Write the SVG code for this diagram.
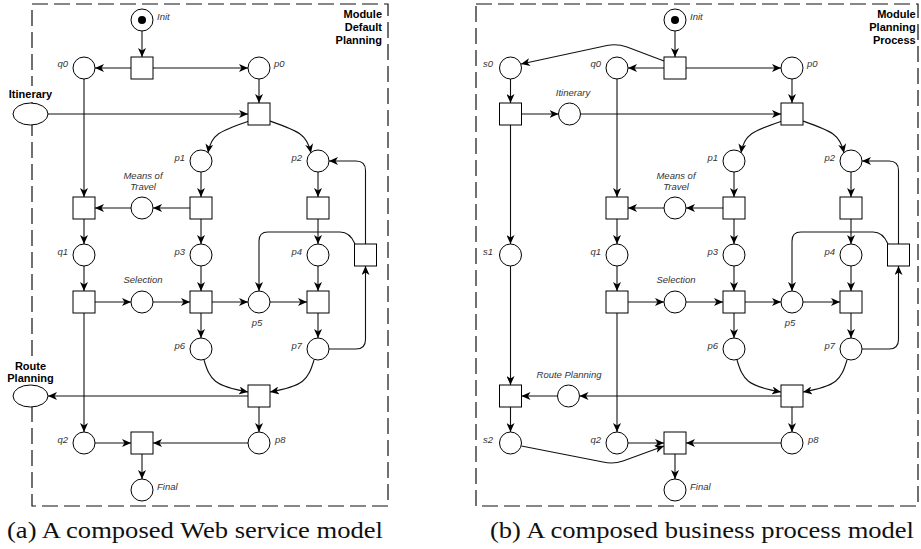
<svg xmlns="http://www.w3.org/2000/svg" width="921" height="549" viewBox="0 0 921 549">
  <style>
    .pl { fill: #fff; stroke: #000; stroke-width: 1; }
    .tr { fill: #fff; stroke: #000; stroke-width: 1; }
    .tok { fill: #000; stroke: none; }
    .arc { fill: none; stroke: #111; stroke-width: 1.1; marker-end: url(#ah); }
    .frame { fill: none; stroke: #111; stroke-width: 1.2; stroke-dasharray: 16 6; }
    .lbl { font-family: "Liberation Sans", Arial, sans-serif; font-style: italic; font-size: 9.5px; fill: #333; }
    .bold { font-family: "Liberation Sans", Arial, sans-serif; font-weight: bold; font-size: 11px; fill: #000; }
    .cap { font-family: "Liberation Serif", "Times New Roman", serif; font-size: 22.5px; fill: #111; }
    .bg { fill: #fff; stroke: none; }
  </style>
  <defs>
    <marker id="ah" markerUnits="userSpaceOnUse" markerWidth="9" markerHeight="8" viewBox="0 0 9 8" refX="9" refY="4" orient="auto">
      <path d="M0,0 L9,4 L0,8 L2.5,4 z" fill="#000"/>
    </marker>
    <!-- shared node shapes, centred on the origin -->
    <circle id="place" class="pl" r="11"/>
    <rect id="trans" class="tr" x="-11" y="-11" width="22" height="22"/>
  </defs>
  <rect width="921" height="549" fill="#fff"/>

  <!-- ===================== (a) Module Default Planning ===================== -->
  <g id="panel-a">
    <rect class="frame" x="32" y="4" width="356" height="502"/>

    <g id="a-connectors">
      <path class="arc" d="M142,31 L142,57"/>
      <path class="arc" d="M131,68 L95,68"/>
      <path class="arc" d="M153,68 L248,68"/>
      <path class="arc" d="M259,79 L259,103"/>
      <path class="arc" d="M48,114 L248,114"/>
      <path class="arc" d="M249,121 C220,131 211,134 208,153"/>
      <path class="arc" d="M270,121 C298,131 307,134 311,153"/>
      <path class="arc" d="M201,172 L201,197"/>
      <path class="arc" d="M190,208 L153,208"/>
      <path class="arc" d="M131,208 L95,208"/>
      <path class="arc" d="M84,79 L84,197"/>
      <path class="arc" d="M84,219 L84,244"/>
      <path class="arc" d="M201,219 L201,244"/>
      <path class="arc" d="M318,172 L318,197"/>
      <path class="arc" d="M318,219 L318,244"/>
      <path class="arc" d="M84,266 L84,291"/>
      <path class="arc" d="M201,266 L201,291"/>
      <path class="arc" d="M318,266 L318,291"/>
      <path class="arc" d="M95,302 L131,302"/>
      <path class="arc" d="M153,302 L190,302"/>
      <path class="arc" d="M212,302 L248,302"/>
      <path class="arc" d="M270,302 L307,302"/>
      <path class="arc" d="M201,313 L201,338"/>
      <path class="arc" d="M318,313 L318,338"/>
      <path class="arc" d="M329,349 L356,349 Q365.5,349 365.5,339.5 L365.5,266"/>
      <path class="arc" d="M365.5,244 L365.5,170.5 Q365.5,161 356,161 L329,161"/>
      <path class="arc" d="M355,244 Q350,232 340,232 L268,232 Q259,232 259,241 L259,291"/>
      <path class="arc" d="M84,313 L84,432"/>
      <path class="arc" d="M204,360 C210,380 214,386 248,392"/>
      <path class="arc" d="M314,360 C308,380 304,386 270,392"/>
      <path class="arc" d="M248,396 L48,396"/>
      <path class="arc" d="M259,407 L259,432"/>
      <path class="arc" d="M95,443 L131,443"/>
      <path class="arc" d="M248,443 L153,443"/>
      <path class="arc" d="M142,454 L142,479"/>
    </g>

    <g id="a-title">
      <text class="bold" text-anchor="end" x="382" y="18">Module</text>
      <text class="bold" text-anchor="end" x="382" y="31">Default</text>
      <text class="bold" text-anchor="end" x="382" y="44">Planning</text>
    </g>

    <g id="a-init"><use href="#place" x="142" y="20"/><circle class="tok" cx="142" cy="20" r="4"/><text class="lbl" x="157" y="20">Init</text></g>
    <g id="a-t0"><use href="#trans" x="142" y="68"/></g>
    <g id="a-q0"><use href="#place" x="84" y="68"/><text class="lbl" text-anchor="end" x="68" y="67">q0</text></g>
    <g id="a-p0"><use href="#place" x="259" y="68"/><text class="lbl" x="274" y="67">p0</text></g>
    <g id="a-itinerary">
      <rect class="bg" x="12" y="86" width="42" height="16"/>
      <text class="bold" text-anchor="middle" x="30.5" y="98">Itinerary</text>
      <ellipse class="pl" cx="30.5" cy="114" rx="17.5" ry="11"/>
    </g>
    <g id="a-t1"><use href="#trans" x="259" y="114"/></g>
    <g id="a-p1"><use href="#place" x="201" y="161"/><text class="lbl" text-anchor="end" x="185" y="161">p1</text></g>
    <g id="a-p2"><use href="#place" x="318" y="161"/><text class="lbl" text-anchor="end" x="302" y="161">p2</text></g>
    <g id="a-t2"><use href="#trans" x="84" y="208"/></g>
    <g id="a-means"><use href="#place" x="142" y="208"/>
      <text class="lbl" text-anchor="middle" x="143" y="179">Means of</text>
      <text class="lbl" text-anchor="middle" x="143" y="190">Travel</text></g>
    <g id="a-t3"><use href="#trans" x="201" y="208"/></g>
    <g id="a-t4"><use href="#trans" x="318" y="208"/></g>
    <g id="a-q1"><use href="#place" x="84" y="255"/><text class="lbl" text-anchor="end" x="68" y="255">q1</text></g>
    <g id="a-p3"><use href="#place" x="201" y="255"/><text class="lbl" text-anchor="end" x="185" y="255">p3</text></g>
    <g id="a-p4"><use href="#place" x="318" y="255"/><text class="lbl" text-anchor="end" x="302" y="255">p4</text></g>
    <g id="a-t5"><use href="#trans" x="365.5" y="255"/></g>
    <g id="a-t6"><use href="#trans" x="84" y="302"/></g>
    <g id="a-selection"><use href="#place" x="142" y="302"/><text class="lbl" text-anchor="middle" x="143" y="283">Selection</text></g>
    <g id="a-t7"><use href="#trans" x="201" y="302"/></g>
    <g id="a-p5"><use href="#place" x="259" y="302"/><text class="lbl" text-anchor="middle" x="257" y="326">p5</text></g>
    <g id="a-t8"><use href="#trans" x="318" y="302"/></g>
    <g id="a-p6"><use href="#place" x="201" y="349"/><text class="lbl" text-anchor="end" x="185" y="349">p6</text></g>
    <g id="a-p7"><use href="#place" x="318" y="349"/><text class="lbl" text-anchor="end" x="302" y="349">p7</text></g>
    <g id="a-route">
      <rect class="bg" x="8" y="359" width="46" height="27"/>
      <text class="bold" text-anchor="middle" x="30.5" y="370">Route</text>
      <text class="bold" text-anchor="middle" x="30.5" y="382">Planning</text>
      <ellipse class="pl" cx="30.5" cy="396" rx="17.5" ry="11"/>
    </g>
    <g id="a-t9"><use href="#trans" x="259" y="396"/></g>
    <g id="a-q2"><use href="#place" x="84" y="443"/><text class="lbl" text-anchor="end" x="68" y="443">q2</text></g>
    <g id="a-t10"><use href="#trans" x="142" y="443"/></g>
    <g id="a-p8"><use href="#place" x="259" y="443"/><text class="lbl" x="275" y="443">p8</text></g>
    <g id="a-final"><use href="#place" x="142" y="490"/><text class="lbl" x="157" y="490">Final</text></g>

    <text class="cap" x="7" y="538" textLength="376" lengthAdjust="spacingAndGlyphs">(a) A composed Web service model</text>
  </g>

  <!-- ===================== (b) Module Planning Process ===================== -->
  <g id="panel-b">
    <rect class="frame" x="476" y="4" width="442" height="502"/>
    <g transform="translate(533,0)">
      <g id="b-connectors">
        <path class="arc" d="M142,31 L142,57"/>
        <path class="arc" d="M131,68 L95,68"/>
        <path class="arc" d="M153,68 L248,68"/>
        <path class="arc" d="M131,61 L94,47 Q84,43.5 74,45.5 L-12,64"/>
        <path class="arc" d="M-22.5,79 L-22.5,103"/>
        <path class="arc" d="M-11.5,114 L25.5,114"/>
        <path class="arc" d="M-22.5,125 L-22.5,244"/>
        <path class="arc" d="M-22.5,266 L-22.5,385"/>
        <path class="arc" d="M-22.5,407 L-22.5,432"/>
        <path class="arc" d="M-11.5,446 L70,462 Q80,464.5 90,461 L131,446"/>
        <path class="arc" d="M259,79 L259,103"/>
        <path class="arc" d="M47.5,114 L248,114"/>
        <path class="arc" d="M249,121 C220,131 211,134 208,153"/>
        <path class="arc" d="M270,121 C298,131 307,134 311,153"/>
        <path class="arc" d="M201,172 L201,197"/>
        <path class="arc" d="M190,208 L153,208"/>
        <path class="arc" d="M131,208 L95,208"/>
        <path class="arc" d="M84,79 L84,197"/>
        <path class="arc" d="M84,219 L84,244"/>
        <path class="arc" d="M201,219 L201,244"/>
        <path class="arc" d="M318,172 L318,197"/>
        <path class="arc" d="M318,219 L318,244"/>
        <path class="arc" d="M84,266 L84,291"/>
        <path class="arc" d="M201,266 L201,291"/>
        <path class="arc" d="M318,266 L318,291"/>
        <path class="arc" d="M95,302 L131,302"/>
        <path class="arc" d="M153,302 L190,302"/>
        <path class="arc" d="M212,302 L248,302"/>
        <path class="arc" d="M270,302 L307,302"/>
        <path class="arc" d="M201,313 L201,338"/>
        <path class="arc" d="M318,313 L318,338"/>
        <path class="arc" d="M329,349 L356,349 Q365.5,349 365.5,339.5 L365.5,266"/>
        <path class="arc" d="M365.5,244 L365.5,170.5 Q365.5,161 356,161 L329,161"/>
        <path class="arc" d="M355,244 Q350,232 340,232 L268,232 Q259,232 259,241 L259,291"/>
        <path class="arc" d="M84,313 L84,432"/>
        <path class="arc" d="M204,360 C210,380 214,386 248,392"/>
        <path class="arc" d="M314,360 C308,380 304,386 270,392"/>
        <path class="arc" d="M248,396 L46.5,396"/>
        <path class="arc" d="M24.5,396 L-11.5,396"/>
        <path class="arc" d="M259,407 L259,432"/>
        <path class="arc" d="M95,443 L131,443"/>
        <path class="arc" d="M248,443 L153,443"/>
        <path class="arc" d="M142,454 L142,479"/>
      </g>

      <g id="b-title">
        <rect class="bg" x="325" y="6" width="59" height="42"/>
        <text class="bold" text-anchor="end" x="382.7" y="18">Module</text>
        <text class="bold" text-anchor="end" x="382.7" y="31">Planning</text>
        <text class="bold" text-anchor="end" x="382.7" y="44">Process</text>
      </g>

      <g id="b-init"><use href="#place" x="142" y="20"/><circle class="tok" cx="142" cy="20" r="4"/><text class="lbl" x="157" y="20">Init</text></g>
      <g id="b-t0"><use href="#trans" x="142" y="68"/></g>
      <g id="b-s0"><use href="#place" x="-22.5" y="68"/><text class="lbl" text-anchor="end" x="-40" y="67">s0</text></g>
      <g id="b-q0"><use href="#place" x="84" y="68"/><text class="lbl" text-anchor="end" x="68" y="67">q0</text></g>
      <g id="b-p0"><use href="#place" x="259" y="68"/><text class="lbl" x="274" y="67">p0</text></g>
      <g id="b-ts0"><use href="#trans" x="-22.5" y="114"/></g>
      <g id="b-itinerary"><use href="#place" x="36.5" y="114"/><text class="lbl" text-anchor="middle" x="40" y="96">Itinerary</text></g>
      <g id="b-t1"><use href="#trans" x="259" y="114"/></g>
      <g id="b-p1"><use href="#place" x="201" y="161"/><text class="lbl" text-anchor="end" x="185" y="161">p1</text></g>
      <g id="b-p2"><use href="#place" x="318" y="161"/><text class="lbl" text-anchor="end" x="302" y="161">p2</text></g>
      <g id="b-t2"><use href="#trans" x="84" y="208"/></g>
      <g id="b-means"><use href="#place" x="142" y="208"/>
        <text class="lbl" text-anchor="middle" x="143" y="179">Means of</text>
        <text class="lbl" text-anchor="middle" x="143" y="190">Travel</text></g>
      <g id="b-t3"><use href="#trans" x="201" y="208"/></g>
      <g id="b-t4"><use href="#trans" x="318" y="208"/></g>
      <g id="b-s1"><use href="#place" x="-22.5" y="255"/><text class="lbl" text-anchor="end" x="-40" y="255">s1</text></g>
      <g id="b-q1"><use href="#place" x="84" y="255"/><text class="lbl" text-anchor="end" x="68" y="255">q1</text></g>
      <g id="b-p3"><use href="#place" x="201" y="255"/><text class="lbl" text-anchor="end" x="185" y="255">p3</text></g>
      <g id="b-p4"><use href="#place" x="318" y="255"/><text class="lbl" text-anchor="end" x="302" y="255">p4</text></g>
      <g id="b-t5"><use href="#trans" x="365.5" y="255"/></g>
      <g id="b-t6"><use href="#trans" x="84" y="302"/></g>
      <g id="b-selection"><use href="#place" x="142" y="302"/><text class="lbl" text-anchor="middle" x="143" y="283">Selection</text></g>
      <g id="b-t7"><use href="#trans" x="201" y="302"/></g>
      <g id="b-p5"><use href="#place" x="259" y="302"/><text class="lbl" text-anchor="middle" x="257" y="326">p5</text></g>
      <g id="b-t8"><use href="#trans" x="318" y="302"/></g>
      <g id="b-p6"><use href="#place" x="201" y="349"/><text class="lbl" text-anchor="end" x="185" y="349">p6</text></g>
      <g id="b-p7"><use href="#place" x="318" y="349"/><text class="lbl" text-anchor="end" x="302" y="349">p7</text></g>
      <g id="b-ts1"><use href="#trans" x="-22.5" y="396"/></g>
      <g id="b-route"><use href="#place" x="35.5" y="396"/><text class="lbl" text-anchor="middle" x="36" y="378">Route Planning</text></g>
      <g id="b-t9"><use href="#trans" x="259" y="396"/></g>
      <g id="b-s2"><use href="#place" x="-22.5" y="443"/><text class="lbl" text-anchor="end" x="-40" y="443">s2</text></g>
      <g id="b-q2"><use href="#place" x="84" y="443"/><text class="lbl" text-anchor="end" x="68" y="443">q2</text></g>
      <g id="b-t10"><use href="#trans" x="142" y="443"/></g>
      <g id="b-p8"><use href="#place" x="259" y="443"/><text class="lbl" x="275" y="443">p8</text></g>
      <g id="b-final"><use href="#place" x="142" y="490"/><text class="lbl" x="157" y="490">Final</text></g>
    </g>

    <text class="cap" x="490" y="538" textLength="424" lengthAdjust="spacingAndGlyphs">(b) A composed business process model</text>
  </g>
</svg>
